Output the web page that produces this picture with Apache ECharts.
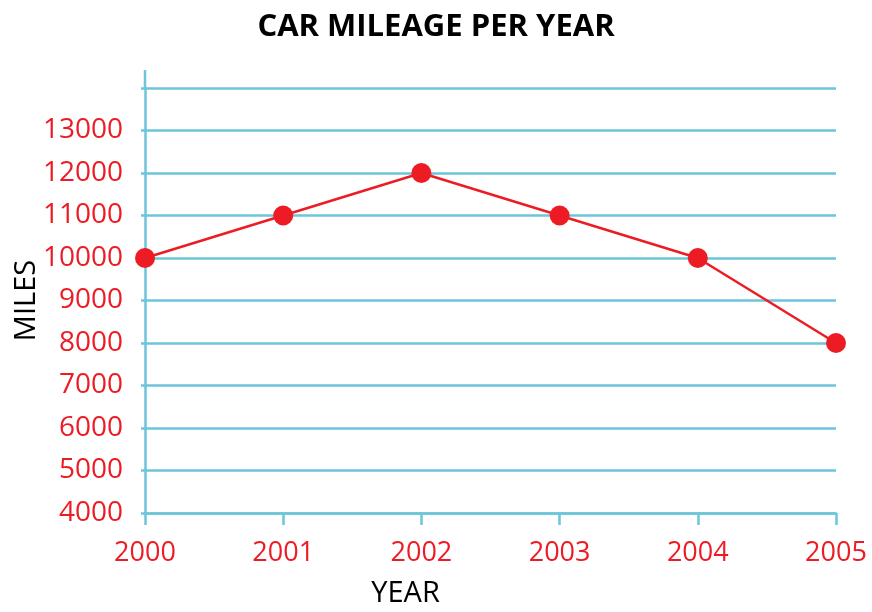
<!DOCTYPE html>
<html>
<head>
<meta charset="utf-8">
<script src="https://cdn.jsdelivr.net/npm/echarts@6/dist/echarts.min.js"></script>
<style>
  html, body { margin: 0; padding: 0; background: #fff; }
  #chart { width: 872px; height: 612px; }
</style>
</head>
<body>
<div id="chart"></div>
<script>
const years = ['2000', '2001', '2002', '2003', '2004', '2005'];
const miles = [10000, 11000, 12000, 11000, 10000, 8000];
const yMin = 4000;
const yMax = 14000;
const yStep = 1000;

const blue = '#6cc5da';
const red = '#ed1c24';
const font = 'Open Sans';

const chart = echarts.init(document.getElementById('chart'));
chart.setOption({
  animation: false,
  title: {
    text: 'CAR MILEAGE PER YEAR',
    left: 'center',
    top: 7,
    textStyle: { fontFamily: font, fontWeight: 'bold', fontSize: 31, color: '#000' }
  },
  grid: { left: 145, right: 36, top: 88, bottom: 99, containLabel: false, outerBoundsMode: 'none' },
  xAxis: {
    type: 'category',
    data: years,
    boundaryGap: false,
    name: 'YEAR',
    nameLocation: 'middle',
    nameGap: 66,
    nameTextStyle: { fontFamily: font, fontSize: 29, color: '#000', padding: [0, 170, 0, 0] },
    axisLine: { lineStyle: { color: blue, width: 2.5 } },
    axisTick: { show: true, length: 12, lineStyle: { color: blue, width: 2.5 } },
    axisLabel: { color: red, fontFamily: font, fontSize: 27, margin: 27 },
    splitLine: { show: false }
  },
  yAxis: {
    type: 'value',
    min: yMin,
    max: yMax,
    interval: yStep,
    name: 'MILES',
    nameLocation: 'middle',
    nameGap: 104,
    nameMoveOverlap: false,
    nameTextStyle: { fontFamily: font, fontSize: 29, color: '#000' },
    axisLine: { show: true, lineStyle: { color: blue, width: 2.5 } },
    axisTick: { show: true, length: 4, lineStyle: { color: blue, width: 2.5 } },
    axisLabel: {
      color: red, fontFamily: font, fontSize: 28, margin: 22,
      formatter: v => (v === yMax ? '' : String(v))
    },
    splitLine: { show: true, lineStyle: { color: blue, width: 2.5 } }
  },
  graphic: [{
    type: 'line',
    shape: { x1: 145, y1: 70, x2: 145, y2: 88 },
    style: { stroke: blue, lineWidth: 2.5 }
  }],
  series: [{
    type: 'line',
    data: miles,
    symbol: 'circle',
    symbolSize: 20,
    lineStyle: { color: red, width: 2.5 },
    itemStyle: { color: red },
    clip: false,
    z: 5
  }]
});
</script>
</body>
</html>
